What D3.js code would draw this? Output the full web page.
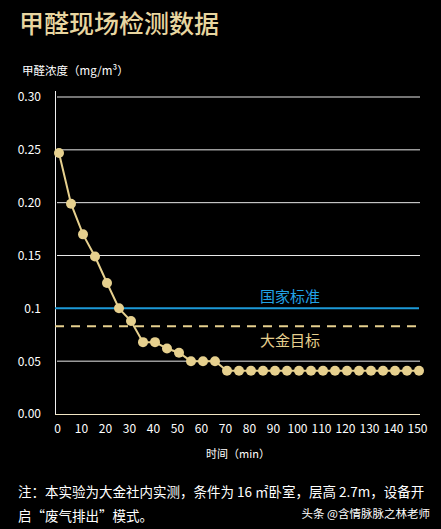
<!DOCTYPE html>
<html>
<head>
<meta charset="utf-8">
<script src="https://cdn.jsdelivr.net/npm/d3@7"></script>
<style>
  body { margin: 0; background: #000; }
  svg { display: block; font-family: "Noto Sans CJK SC", "Noto Sans", sans-serif; }
</style>
</head>
<body>
<script>
// data
let minutes = [0,5,10,15,20,25,30,35,40,45,50,55,60,65,70,75,80,85,90,95,100,105,110,115,120,125,130,135,140,145,150];
let conc = [0.247,0.199,0.170,0.149,0.124,0.100,0.088,0.068,0.068,0.062,0.058,0.050,0.050,0.050,0.041,0.041,0.041,0.041,0.041,0.041,0.041,0.041,0.041,0.041,0.041,0.041,0.041,0.041,0.041,0.041,0.041];
let xTicks = [0,10,20,30,40,50,60,70,80,90,100,110,120,130,140,150];
let yTicks = [0,0.05,0.1,0.15,0.2,0.25,0.3];
let yTickLabels = ['0.00','0.05','0.1','0.15','0.20','0.25','0.30'];
let refLines = [
  {name: '国家标准', value: 0.1, color: '#1c9ad8', dash: null},
  {name: '大金目标', value: 0.083, color: '#e6d08e', dash: '9,7'}
];

var W = 441, H = 529;
var gold = '#e6d08e';
var svg = d3.select('body').append('svg')
    .attr('width', W).attr('height', H);

svg.append('rect').attr('width', W).attr('height', H).attr('fill', '#000');

var xScale = d3.scaleLinear().domain([0,150]).range([59, 419]);
var yScale = d3.scaleLinear().domain([0,0.3]).range([414, 97]);

// title
svg.append('text')
    .attr('x', 19).attr('y', 33)
    .attr('fill', '#e8d6a0')
    .style('font-size', '25px')
    .style('font-weight', '500')
    .text('甲醛现场检测数据');

svg.append('text')
    .attr('x', 22).attr('y', 75)
    .attr('fill', '#fff')
    .style('font-size', '11.5px')
    .text('甲醛浓度（mg/m³）');

// gridlines
svg.selectAll('.grid')
    .data(yTicks.filter(d => d > 0 && d !== 0.1))
    .enter().append('line')
    .attr('class', 'grid')
    .attr('x1', 57).attr('x2', 420)
    .attr('y1', d => yScale(d)).attr('y2', d => yScale(d))
    .attr('stroke', '#e8e8e8').attr('stroke-width', 1);

// y axis
var yAxis = d3.axisLeft(yScale).tickValues(yTicks)
    .tickFormat((d,i) => yTickLabels[i]).tickSize(0).tickPadding(14);
var gy = svg.append('g').attr('transform', 'translate(55,0)').call(yAxis);
gy.select('.domain').remove();
gy.selectAll('text').attr('fill', '#fff').style('font-size', '12px')
    .style('font-family', '"Noto Sans CJK SC", sans-serif');
svg.append('line').attr('x1', 55.5).attr('x2', 55.5).attr('y1', 91).attr('y2', 414)
    .attr('stroke', '#f0f0f0').attr('stroke-width', 1);
svg.append('line').attr('x1', 55).attr('x2', 420).attr('y1', 414.5).attr('y2', 414.5)
    .attr('stroke', '#f2e6c4').attr('stroke-width', 1);

// x axis
var xAxis = d3.axisBottom(xScale).tickValues(xTicks).tickSize(0).tickPadding(10);
var gx = svg.append('g').attr('transform', 'translate(-2,414)').call(xAxis);
gx.select('.domain').remove();
gx.selectAll('text').attr('fill', '#fff').style('font-size', '12px')
    .style('font-family', '"Noto Sans CJK SC", sans-serif');

svg.append('text')
    .attr('x', 238).attr('y', 458)
    .attr('text-anchor', 'middle')
    .attr('fill', '#fff')
    .style('font-size', '11px')
    .text('时间（min）');

// reference lines
refLines.forEach((r, i) => {
    svg.append('line')
        .attr('x1', 55).attr('x2', 419)
        .attr('y1', yScale(r.value)).attr('y2', yScale(r.value))
        .attr('stroke', r.color).attr('stroke-width', 2)
        .attr('stroke-dasharray', r.dash);
    svg.append('text')
        .attr('x', 290)
        .attr('y', i === 0 ? yScale(r.value) - 6 : yScale(r.value) + 20)
        .attr('text-anchor', 'middle')
        .attr('fill', i === 0 ? '#22a3e6' : r.color)
        .style('font-size', '15px')
        .text(r.name);
});

// series
var data = minutes.map((m, i) => [m, conc[i]]);
var line = d3.line().x(d => xScale(d[0])).y(d => yScale(d[1]));
svg.append('path').datum(data)
    .attr('d', line)
    .attr('fill', 'none')
    .attr('stroke', gold)
    .attr('stroke-width', 2);
svg.selectAll('.pt').data(data).enter().append('circle')
    .attr('class', 'pt')
    .attr('cx', d => xScale(d[0]))
    .attr('cy', d => yScale(d[1]))
    .attr('r', 5)
    .attr('fill', gold);

// note
svg.append('text')
    .attr('x', 18).attr('y', 497)
    .attr('fill', '#fff')
    .style('font-size', '13.5px')
    .text('注：本实验为大金社内实测，条件为 16 ㎡卧室，层高 2.7m，设备开');
svg.append('text')
    .attr('x', 18).attr('y', 521)
    .attr('fill', '#fff')
    .style('font-size', '13.5px')
    .text('启“废气排出”模式。');
svg.append('text')
    .attr('x', 430).attr('y', 518)
    .attr('text-anchor', 'end')
    .attr('fill', '#fff')
    .style('font-size', '11.5px')
    .text('头条 @含情脉脉之林老师');
</script>
</body>
</html>
